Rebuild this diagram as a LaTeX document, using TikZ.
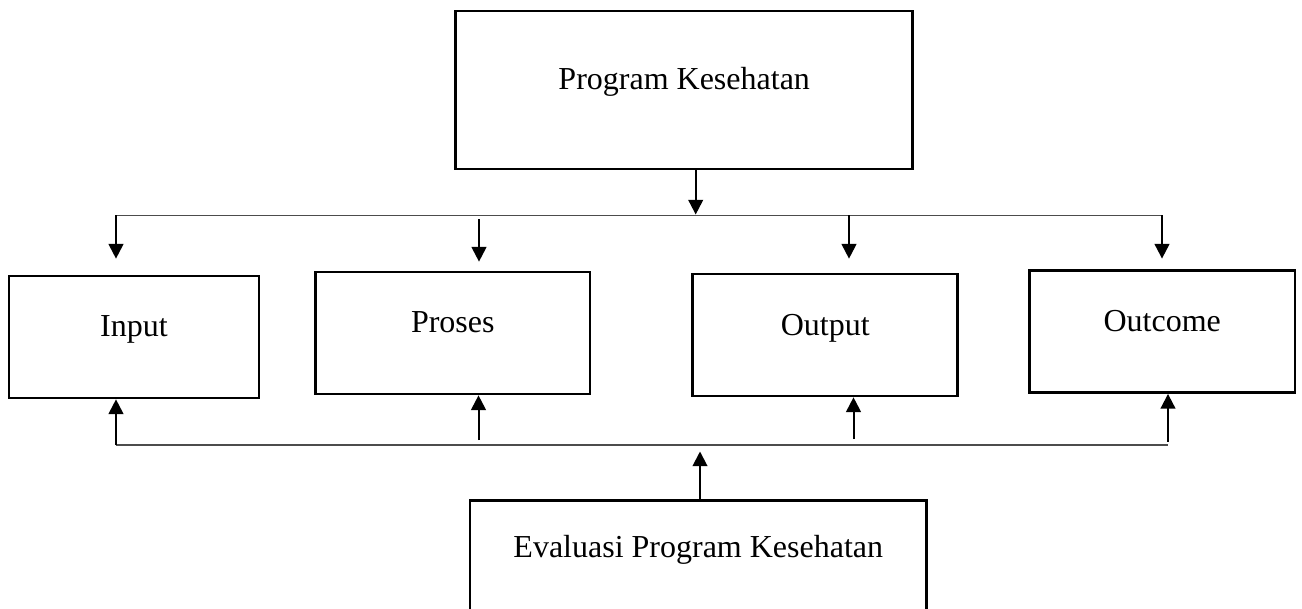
\documentclass[tikz,border=0pt]{standalone}
\usepackage{fontspec}
\setmainfont{Liberation Serif}
\usetikzlibrary{arrows.meta}
\tikzstyle{box} = [rectangle, draw = black, line width = 2pt, text height = 1ex, text depth = 1ex, font = \fontsize{24}{28}\selectfont]
\tikzstyle{arrow} = [line width = 1.5pt, -{Triangle[width = 11pt, length = 11pt]}]
\tikzstyle{bus} = [line width = 1pt, draw = black!70]

\begin{document}
\begin{tikzpicture}[x = 0.75pt, y = -0.75pt]
\useasboundingbox (0,0) rectangle (1302,609);
\clip (0,0) rectangle (1302,609);

%NODES
\node (program) [box, minimum width = 342.75pt, minimum height = 118.5pt] at (684.2,90) {Program Kesehatan};
\node (input) [box, minimum width = 187.5pt, minimum height = 91.5pt] at (134,337) {Input};
\node (proses) [box, minimum width = 205.7pt, minimum height = 91.5pt] at (452.8,333) {Proses};
\node (output) [box, minimum width = 198.75pt, minimum height = 91.5pt] at (825.2,335) {Output};
\node (outcome) [box, minimum width = 199.3pt, minimum height = 91.5pt] at (1162.2,331.6) {Outcome};
\node (evaluasi) [box, minimum width = 342.5pt, minimum height = 84.75pt] at (698.3,557) {Evaluasi Program Kesehatan};

%BUS POINTS
\coordinate (top) at (695.7,214.5);
\coordinate (topleft) at (116,215.5);
\coordinate (topright) at (1162,215.5);
\coordinate (d2) at (479,219.5);
\coordinate (d3) at (849,215.5);
\coordinate (bottom) at (700,451.5);
\coordinate (bottomleft) at (116,445);
\coordinate (bottomright) at (1168,445);
\coordinate (u2) at (478.5,440);
\coordinate (u3) at (853.5,439);
\coordinate (u4) at (1168,441.5);

%ARROWS
\draw [arrow] (program.south -| top) -- (top);
\draw [bus] (topleft) -- (topright);
\draw [arrow, shorten > = 12pt] (topleft) -- (topleft |- input.north);
\draw [arrow, shorten > = 6.75pt] (d2) -- (d2 |- proses.north);
\draw [arrow, shorten > = 10.5pt] (d3) -- (d3 |- output.north);
\draw [arrow, shorten > = 8pt] (topright) -- (topright |- outcome.north);

\draw [bus] (bottomleft) -- (bottomright);
\draw [arrow] (evaluasi.north -| bottom) -- (bottom);
\draw [arrow] (bottomleft) -- (bottomleft |- input.south);
\draw [arrow] (u2) -- (u2 |- proses.south);
\draw [arrow] (u3) -- (u3 |- output.south);
\draw [arrow] (u4) -- (u4 |- outcome.south);

\end{tikzpicture}
\end{document}
